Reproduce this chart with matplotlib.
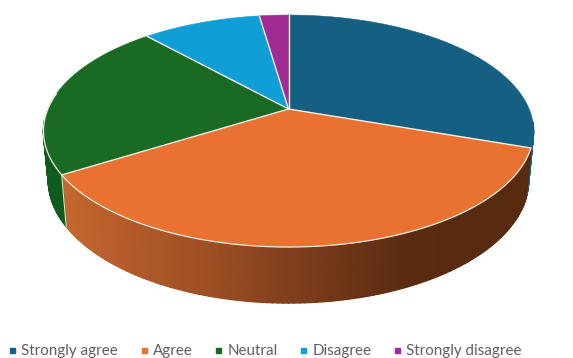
import numpy as np
import matplotlib
matplotlib.use('Agg')
import matplotlib.pyplot as plt
from matplotlib.collections import PolyCollection
from matplotlib.lines import Line2D

# values
labels = ['Strongly agree', 'Agree', 'Neutral', 'Disagree', 'Strongly disagree']
values = [30.3, 35.8, 22.2, 9.4, 2.3]
colors = ['#156082', '#E97132', '#196B24', '#0F9ED5', '#A02B93']
wall_colors = ['#156082', None, '#0F5A1E', '#095F80', '#601A58']

# orange side gets lighter on the left, dark on the right
wall_x = [60, 120, 200, 290, 400, 450, 540]
wall_r = [196, 180, 160, 128, 92, 88, 88]
wall_g = [104, 92, 80, 62, 44, 42, 42]
wall_b = [48, 42, 36, 28, 18, 16, 16]

# perspective of the disc, in pixels of the picture
cx, cy = 288.5, 109.0
A, B, k = 240.6, 111.8, 0.19
line_col = '#F2EEE2'


def top_rim(angle, r=1.0):
    X = r * np.sin(angle)
    Y = r * np.cos(angle)
    w = 1 + k * Y
    return cx + A * X / w, cy - B * Y / w


def bottom_rim(angle):
    u, v = top_rim(angle)
    return cx + (u - cx) * 0.98, v + 56 - (247 - v) * 0.06


fig = plt.figure(figsize=(5.73, 3.58), dpi=100)
ax = fig.add_axes([0, 0, 1, 1])
ax.set_xlim(0, 573)
ax.set_ylim(358, 0)
ax.axis('off')

edges = np.concatenate([[0], np.cumsum(values)]) / np.sum(values) * 2 * np.pi

# side wall first, only the front part shows
for i in range(len(values)):
    t = np.linspace(edges[i], edges[i + 1], 121)
    ux, uy = top_rim(t)
    lx, ly = bottom_rim(t)
    quads = []
    cols = []
    for j in range(len(t) - 1):
        if np.cos(t[j]) > -0.1:
            continue
        quads.append([(ux[j], uy[j]), (ux[j + 1], uy[j + 1]), (lx[j + 1], ly[j + 1]), (lx[j], ly[j])])
        if wall_colors[i] is None:
            mx = (ux[j] + ux[j + 1]) / 2
            cols.append((np.interp(mx, wall_x, wall_r) / 255,
                         np.interp(mx, wall_x, wall_g) / 255,
                         np.interp(mx, wall_x, wall_b) / 255))
        else:
            cols.append(wall_colors[i])
    if quads:
        ax.add_collection(PolyCollection(quads, facecolors=cols, edgecolors=cols, linewidths=1.0, zorder=1))

# pale line where green and orange meet on the wall
ex = edges[2]
ax.plot([top_rim(ex)[0], bottom_rim(ex)[0]], [top_rim(ex)[1], bottom_rim(ex)[1]],
        color='#E8E6C8', lw=0.8, zorder=2)

# top face
for i in range(len(values)):
    t = np.linspace(edges[i], edges[i + 1], 200)
    ux, uy = top_rim(t)
    ax.fill(np.r_[cx, ux], np.r_[cy, uy], facecolor=colors[i], edgecolor=colors[i], lw=0.4, zorder=3)

# pale separators and the front rim only, the back rim has no line
for e in edges[:-1]:
    ux, uy = top_rim(e)
    ax.plot([cx, ux], [cy, uy], color=line_col, lw=1.0, solid_capstyle='round', zorder=4)
t = np.linspace(edges[1], np.deg2rad(278), 300)
ux, uy = top_rim(t)
ax.plot(ux, uy, color=line_col, lw=0.9, zorder=4)

handles = [Line2D([], [], ls='none', marker='s', ms=3.6, color=c) for c in colors]
fig.legend(handles, labels, loc='lower left', bbox_to_anchor=(0.0, -0.022), ncol=5, frameon=False,
           prop={'family': 'Lato', 'size': 10.9}, labelcolor='#5F5F5F',
           handlelength=0.6, handletextpad=0.3, columnspacing=1.4, borderpad=0.3, borderaxespad=0.2)

fig.savefig('out.png', dpi=100)
